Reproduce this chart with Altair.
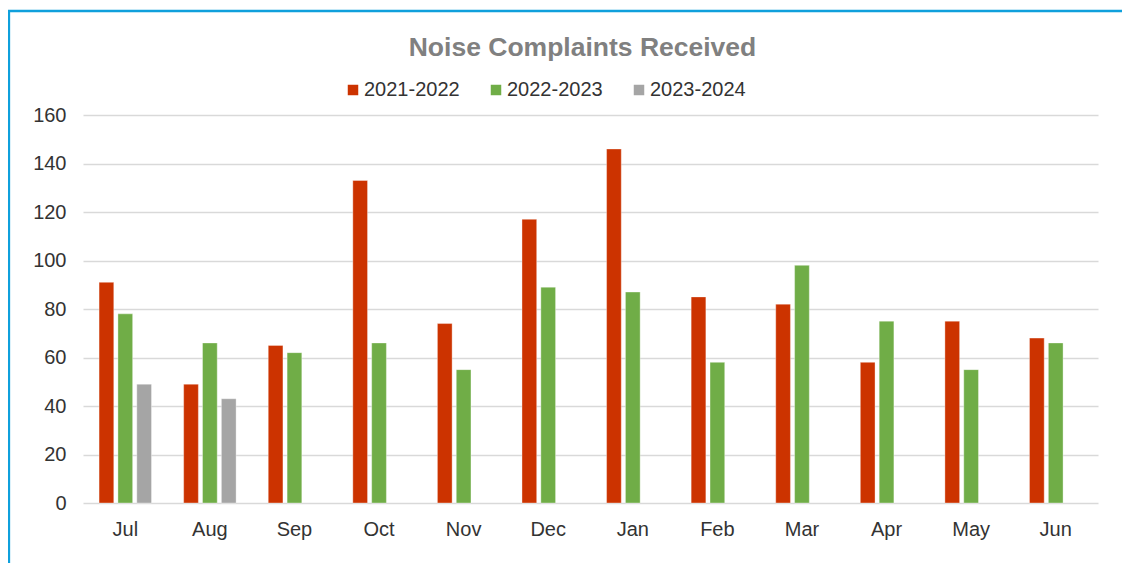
import altair as alt
import pandas as pd

months = ["Jul", "Aug", "Sep", "Oct", "Nov", "Dec", "Jan", "Feb", "Mar", "Apr", "May", "Jun"]
seasons = ["2021-2022", "2022-2023", "2023-2024"]
colors = ["#CC3300", "#70AD47", "#A5A5A5"]

v2021 = [91, 49, 65, 133, 74, 117, 146, 85, 82, 58, 75, 68]
v2022 = [78, 66, 62, 66, 55, 89, 87, 58, 98, 75, 55, 66]
v2023 = [49, 43]

rows = []
for s, vals in zip(seasons, [v2021, v2022, v2023]):
    for m, v in zip(months, vals):
        rows.append({"month": m, "season": s, "value": v})
df = pd.DataFrame(rows)

FONT = "Liberation Sans"

bars = alt.Chart(df).mark_bar(stroke="white", strokeWidth=0.6, strokeOpacity=0.6).encode(
    x=alt.X("month:N", sort=months,
            scale=alt.Scale(paddingInner=0.38, paddingOuter=0.19),
            axis=alt.Axis(title=None, labelAngle=0, domain=False, ticks=False, grid=False,
                          labelFontSize=20, labelFont=FONT, labelColor="#333333",
                          labelPadding=16)),
    xOffset=alt.XOffset("season:N", sort=seasons,
                        scale=alt.Scale(domain=seasons, paddingInner=0.22, paddingOuter=0)),
    y=alt.Y("value:Q", scale=alt.Scale(domain=[0, 160], nice=False),
            axis=alt.Axis(title=None, values=list(range(0, 161, 20)), domain=False, ticks=False,
                          grid=True, gridColor="#D9D9D9", gridWidth=1.5,
                          labelFontSize=20, labelFont=FONT, labelColor="#333333",
                          labelPadding=17)),
    color=alt.Color("season:N", sort=seasons,
                    scale=alt.Scale(domain=seasons, range=colors),
                    legend=alt.Legend(title=None, orient="none", legendX=260, legendY=-35,
                                      direction="horizontal", symbolType="square",
                                      symbolSize=110, symbolStrokeWidth=0,
                                      labelFontSize=20, labelFont=FONT, labelColor="#333333",
                                      labelOffset=1, columnPadding=26, padding=0)),
)

frame = alt.Chart(pd.DataFrame({"a": [0]})).mark_rect(
    fill=None, stroke="#0FA0DC", strokeWidth=2.3, clip=False
).encode(
    x=alt.value(-74), x2=alt.value(1300), y=alt.value(-104), y2=alt.value(800)
)

chart = alt.layer(frame, bars).properties(
    width=1015,
    height=388,
    background="white",
    title=alt.TitleParams("Noise Complaints Received", anchor="middle", dx=-8,
                          font=FONT, fontSize=26.5, fontWeight="bold", color="#808080",
                          offset=0, dy=52),
    autosize=alt.AutoSizeParams(type="none"),
    padding={"left": 75, "top": 107, "right": 24, "bottom": 60},
).configure_view(stroke=None)

chart.save("out.html", embed_options={"renderer": "svg", "actions": False})
